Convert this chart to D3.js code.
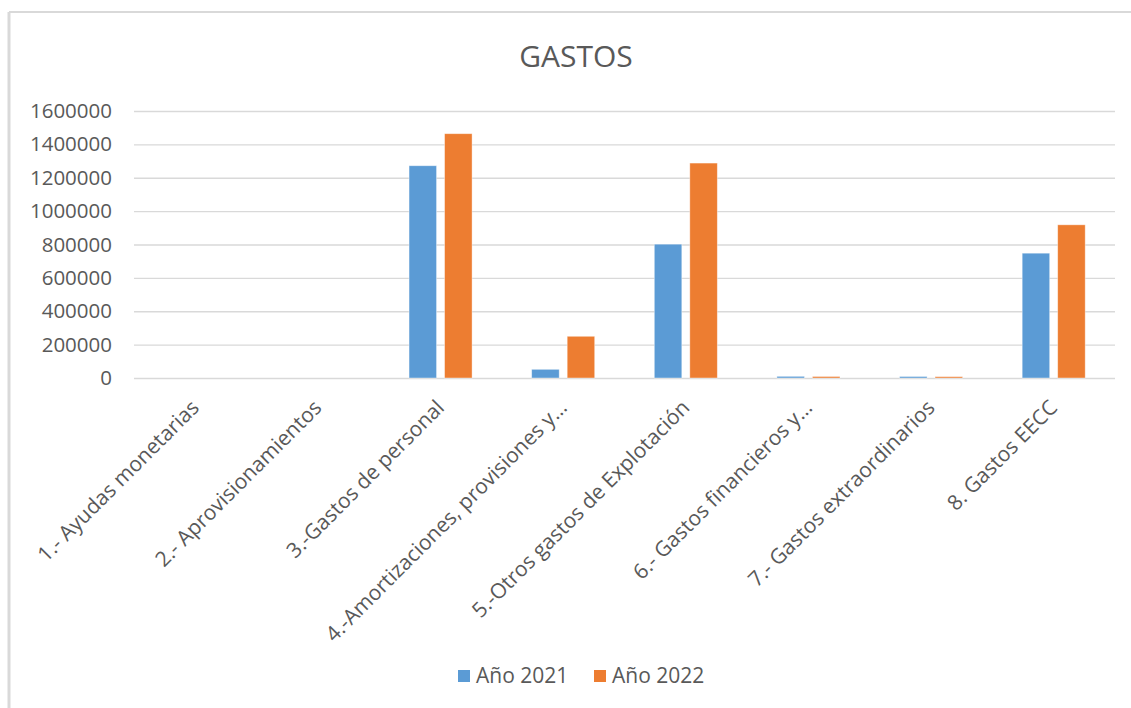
<!DOCTYPE html>
<html>
<head>
<meta charset="utf-8">
<script src="https://cdn.jsdelivr.net/npm/d3@7.9.0/dist/d3.min.js"></script>
<style>
  body { margin: 0; background: #fff; }
  svg { display: block; font-family: "Open Sans", sans-serif; }
</style>
</head>
<body>
<svg id="chart" width="1131" height="708"></svg>
<script>
// data
const categories = [
  '1.- Ayudas monetarias',
  '2.- Aprovisionamientos',
  '3.-Gastos de personal',
  '4.-Amortizaciones, provisiones y…',
  '5.-Otros gastos de Explotación',
  '6.- Gastos financieros y…',
  '7.- Gastos extraordinarios',
  '8. Gastos EECC'
];
const seriesNames = ['Año 2021', 'Año 2022'];
const values2021 = [0, 0, 1272000, 52000, 802000, 10000, 9000, 748000];
const values2022 = [0, 0, 1464000, 250000, 1288000, 9000, 8000, 918000];
const yTicks = [0, 200000, 400000, 600000, 800000, 1000000, 1200000, 1400000, 1600000];
const colors = ['#5B9BD5', '#ED7D31'];

const svg = d3.select('#chart');
const textColor = '#595959';

// chart frame (only top and left edges visible in the shot)
svg.append('line').attr('x1', 9).attr('x2', 1131).attr('y1', 12).attr('y2', 12)
  .attr('stroke', '#d9d9d9').attr('stroke-width', 2);
svg.append('line').attr('x1', 9).attr('x2', 9).attr('y1', 12).attr('y2', 708)
  .attr('stroke', '#d9d9d9').attr('stroke-width', 3);

// title
svg.append('text')
  .attr('x', 576).attr('y', 67)
  .attr('text-anchor', 'middle')
  .attr('fill', textColor)
  .style('font-size', '30px')
  .text('GASTOS');

// scales
const plot = { left: 134, right: 1115, top: 111, bottom: 378 };
const x0 = d3.scaleBand().domain(categories).range([plot.left, plot.right]).padding(0);
const bw = x0.bandwidth();
const x1 = d3.scaleBand().domain(seriesNames)
  .range([bw * 0.243, bw * 0.757]).paddingInner(0.225);
const y = d3.scaleLinear().domain([0, 1600000]).range([plot.bottom, plot.top]);

// gridlines + y labels
const yAxis = d3.axisLeft(y).tickValues(yTicks).tickFormat(d3.format('d'))
  .tickSize(-(plot.right - plot.left)).tickPadding(22);
const gy = svg.append('g').attr('transform', `translate(${plot.left},0)`).call(yAxis);
gy.select('.domain').remove();
gy.selectAll('.tick line').attr('stroke', '#d9d9d9').attr('stroke-width', 1.3);
gy.selectAll('.tick text')
  .attr('fill', textColor)
  .style('font-size', '20.5px')
  .style('font-family', '"Open Sans", sans-serif');

// bars
const rows = categories.map((c, i) => ({ cat: c, vals: [values2021[i], values2022[i]] }));
const groups = svg.append('g').selectAll('g')
  .data(rows).join('g')
  .attr('transform', d => `translate(${x0(d.cat)},0)`);

groups.selectAll('rect')
  .data(d => d.vals.map((v, k) => ({ key: seriesNames[k], value: v, k })))
  .join('rect')
  .filter(d => d.value > 0)
  .attr('x', d => x1(d.key))
  .attr('width', x1.bandwidth())
  .attr('y', d => y(d.value))
  .attr('height', d => y(0) - y(d.value))
  .attr('fill', d => colors[d.k])
  .attr('stroke', '#fff')
  .attr('stroke-opacity', 0.5)
  .attr('stroke-width', 0.8);

// category labels, rotated -45
svg.append('g').selectAll('text')
  .data(categories).join('text')
  .attr('transform', d => `translate(${x0(d) + bw / 2 + 5},409) rotate(-45)`)
  .attr('text-anchor', 'end')
  .attr('fill', textColor)
  .style('font-size', '21px')
  .text(d => d);

// legend
const legend = svg.append('g').attr('transform', 'translate(458,670)');
const legendX = [0, 136];
seriesNames.forEach((name, k) => {
  const item = legend.append('g').attr('transform', `translate(${legendX[k]},0)`);
  item.append('rect').attr('width', 12).attr('height', 12).attr('fill', colors[k]);
  item.append('text').attr('x', 18).attr('y', 13)
    .attr('fill', textColor)
    .style('font-size', '21px')
    .text(name);
});
</script>
</body>
</html>
